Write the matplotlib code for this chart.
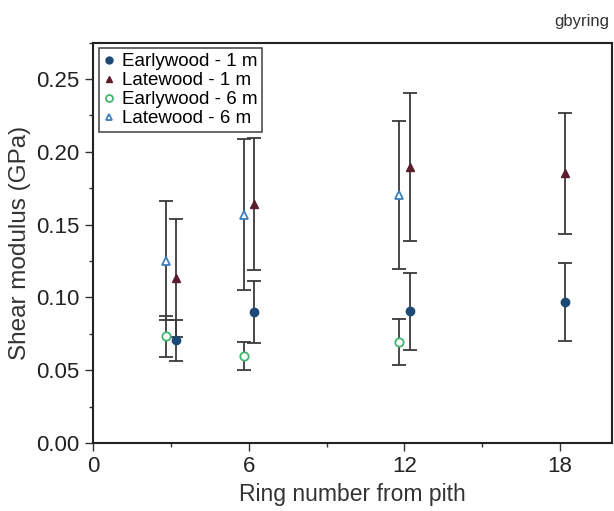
import numpy as np
import matplotlib.pyplot as plt
from matplotlib.lines import Line2D
from matplotlib.ticker import MultipleLocator, FormatStrFormatter

# Ring numbers and shear modulus values (GPa)
rings_1m = np.array([3, 6, 12, 18])
early_1m = np.array([0.0705, 0.0902, 0.0906, 0.0968])
early_1m_err = np.array([0.0141, 0.0214, 0.0265, 0.0270])
late_1m = np.array([0.1132, 0.1642, 0.1897, 0.1854])
late_1m_err = np.array([0.0407, 0.0452, 0.0510, 0.0415])

rings_6m = np.array([3, 6, 12])
early_6m = np.array([0.0733, 0.0598, 0.0694])
early_6m_err = np.array([0.0142, 0.0094, 0.0157])
late_6m = np.array([0.1253, 0.1568, 0.1703])
late_6m_err = np.array([0.0411, 0.0520, 0.0510])

shift = 0.2  # small horizontal offset between heights

c_e1, c_l1, c_e6, c_l6 = '#1d4a74', '#5b1c2c', '#3fb56e', '#3b7fbf'

plt.rcParams['font.family'] = ['Liberation Sans', 'DejaVu Sans']

fig = plt.figure(figsize=(6.14, 5.11), dpi=100)
ax = fig.add_axes([0.1515, 0.1331, 0.8452, 0.7833])

ebar = dict(ecolor='#3a3a3a', elinewidth=1.3, capsize=5, capthick=1.3,
            linestyle='none', markersize=6)

ax.errorbar(rings_6m - shift, late_6m, yerr=late_6m_err, fmt='^',
            mfc='white', mec=c_l6, mew=1.3, **ebar)
ax.errorbar(rings_6m - shift, early_6m, yerr=early_6m_err, fmt='o',
            mfc='white', mec=c_e6, mew=1.3, **ebar)
ax.errorbar(rings_1m + shift, late_1m, yerr=late_1m_err, fmt='^',
            mfc=c_l1, mec=c_l1, **ebar)
ax.errorbar(rings_1m + shift, early_1m, yerr=early_1m_err, fmt='o',
            mfc=c_e1, mec=c_e1, **ebar)

ax.set_xlim(0, 20)
ax.set_ylim(0, 0.275)
ax.xaxis.set_major_locator(MultipleLocator(6))
ax.xaxis.set_minor_locator(MultipleLocator(3))
ax.yaxis.set_major_locator(MultipleLocator(0.05))
ax.yaxis.set_minor_locator(MultipleLocator(0.025))
ax.yaxis.set_major_formatter(FormatStrFormatter('%.2f'))
ax.tick_params(which='both', direction='out', top=False, right=False,
               labelsize=16, color='#333333', labelcolor='#222222')
ax.tick_params(which='major', length=6, width=1)
ax.tick_params(which='minor', length=3, width=1)
for s in ax.spines.values():
    s.set_linewidth(1.5)
    s.set_color('#222222')

ax.set_xlabel('Ring number from pith', fontsize=16.5, color='#333333')
ax.set_ylabel('Shear modulus (GPa)', fontsize=17.5, color='#333333')

handles = [
    Line2D([], [], ls='none', marker='o', ms=5, mfc=c_e1, mec=c_e1),
    Line2D([], [], ls='none', marker='^', ms=5, mfc=c_l1, mec=c_l1),
    Line2D([], [], ls='none', marker='o', ms=5, mfc='white', mec=c_e6, mew=1.3),
    Line2D([], [], ls='none', marker='^', ms=5, mfc='white', mec=c_l6, mew=1.3),
]
labels = ['Earlywood - 1 m', 'Latewood - 1 m', 'Earlywood - 6 m', 'Latewood - 6 m']
leg = ax.legend(handles, labels, loc='upper left', fontsize=13.5,
                frameon=True, fancybox=False, edgecolor='#222222',
                handlelength=0.6, handletextpad=0.4, borderpad=0.25,
                labelspacing=0.1, borderaxespad=0.3)
leg.get_frame().set_linewidth(1.2)

fig.text(0.992, 0.972, 'gbyring', ha='right', va='top', fontsize=12,
         color='#333333')

fig.savefig('out.png', dpi=100)
